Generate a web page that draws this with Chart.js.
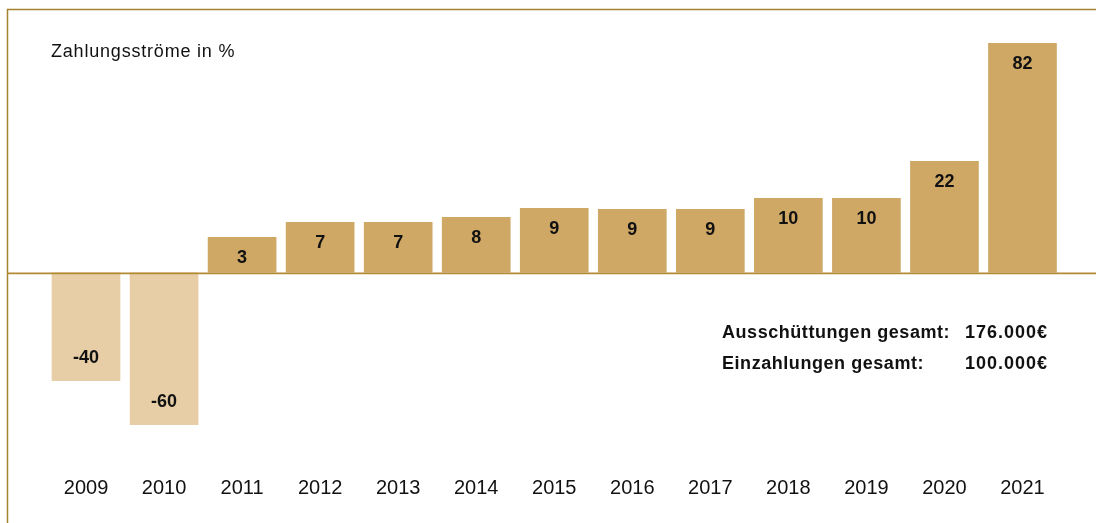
<!DOCTYPE html>
<html>
<head>
<meta charset="utf-8">
<script src="https://cdn.jsdelivr.net/npm/chart.js@4.4.1/dist/chart.umd.min.js"></script>
<style>
  html, body { margin: 0; padding: 0; background: #ffffff; }
  #wrap { position: relative; width: 1096px; height: 523px; }
  canvas { display: block; }
</style>
</head>
<body>
<div id="wrap"><canvas id="c" width="1096" height="523"></canvas></div>
<script>
// ---- data ----
const categories = ['2009','2010','2011','2012','2013','2014','2015','2016','2017','2018','2019','2020','2021'];
// cash flow values printed on the bars (in %)
const values = [-40, -60, 3, 7, 7, 8, 9, 9, 9, 10, 10, 22, 82];
// drawn bar lengths as they appear in the reference graphic (not proportional to the values)
const barLengths = [-108.5, -152.5, 35.5, 50.5, 50.5, 55.5, 64.5, 63.5, 63.5, 74.5, 74.5, 111.5, 229.5];
const titleText = 'Zahlungsströme in %';
const summaryLabels = ['Ausschüttungen gesamt:', 'Einzahlungen gesamt:'];
const summaryValues = ['176.000€', '100.000€'];

const POS = '#CFA866';
const NEG = '#E8CEA6';
const FRAME = '#A4822E';
const ZERO = '#B38A34';

function setSpacing(ctx, s) { try { ctx.letterSpacing = s; } catch (e) {} }

const decor = {
  id: 'decor',
  beforeDraw(chart) {
    const ctx = chart.ctx;
    ctx.save();
    ctx.strokeStyle = FRAME;
    ctx.lineWidth = 1.5;
    ctx.beginPath();
    ctx.moveTo(7.5, 523);
    ctx.lineTo(7.5, 9.5);
    ctx.lineTo(1096, 9.5);
    ctx.stroke();
    // title
    ctx.fillStyle = '#111111';
    ctx.font = '18px "Liberation Sans", Arial, sans-serif';
    ctx.textBaseline = 'alphabetic';
    ctx.textAlign = 'left';
    setSpacing(ctx, '0.8px');
    ctx.fillText(titleText, 51, 57.3);
    setSpacing(ctx, '0px');
    ctx.restore();
  },
  afterDatasetsDraw(chart) {
    const ctx = chart.ctx;
    const y0 = chart.scales.y.getPixelForValue(0);
    ctx.save();
    // zero line
    ctx.strokeStyle = ZERO;
    ctx.lineWidth = 1.8;
    ctx.beginPath();
    ctx.moveTo(7, y0 + 0.9);
    ctx.lineTo(1096, y0 + 0.9);
    ctx.stroke();
    // value labels
    ctx.fillStyle = '#111111';
    ctx.font = 'bold 18px "Liberation Sans", Arial, sans-serif';
    ctx.textAlign = 'center';
    ctx.textBaseline = 'middle';
    const meta = chart.getDatasetMeta(0);
    meta.data.forEach((bar, i) => {
      const v = values[i];
      const y = v >= 0 ? bar.y + 21.5 : bar.y - 23;
      ctx.fillText(String(v), bar.x, y);
    });
    // summary
    ctx.font = 'bold 18px "Liberation Sans", Arial, sans-serif';
    ctx.textAlign = 'left';
    ctx.textBaseline = 'alphabetic';
    const base = [338.3, 369.3];
    setSpacing(ctx, '0.55px');
    summaryLabels.forEach((t, i) => ctx.fillText(t, 722, base[i]));
    setSpacing(ctx, '1px');
    summaryValues.forEach((t, i) => ctx.fillText(t, 965, base[i]));
    setSpacing(ctx, '0px');
    ctx.restore();
  }
};

new Chart(document.getElementById('c'), {
  type: 'bar',
  data: {
    labels: categories,
    datasets: [{
      data: barLengths,
      backgroundColor: values.map(v => v < 0 ? NEG : POS),
      borderWidth: 0,
      barPercentage: 0.88,
      categoryPercentage: 1.0
    }]
  },
  options: {
    responsive: false,
    animation: false,
    devicePixelRatio: 1,
    layout: { padding: { left: 47, right: 34.5, top: 32.5, bottom: 19.5 } },
    plugins: {
      legend: { display: false },
      tooltip: { enabled: false },
      title: { display: false }
    },
    scales: {
      x: {
        grid: { display: false, drawTicks: false },
        border: { display: false },
        ticks: {
          color: '#111111',
          padding: 3.5,
          maxRotation: 0,
          font: { family: '"Liberation Sans", Arial, sans-serif', size: 20 }
        }
      },
      y: {
        display: false,
        min: -200,
        max: 240
      }
    }
  },
  plugins: [decor]
});
</script>
</body>
</html>
